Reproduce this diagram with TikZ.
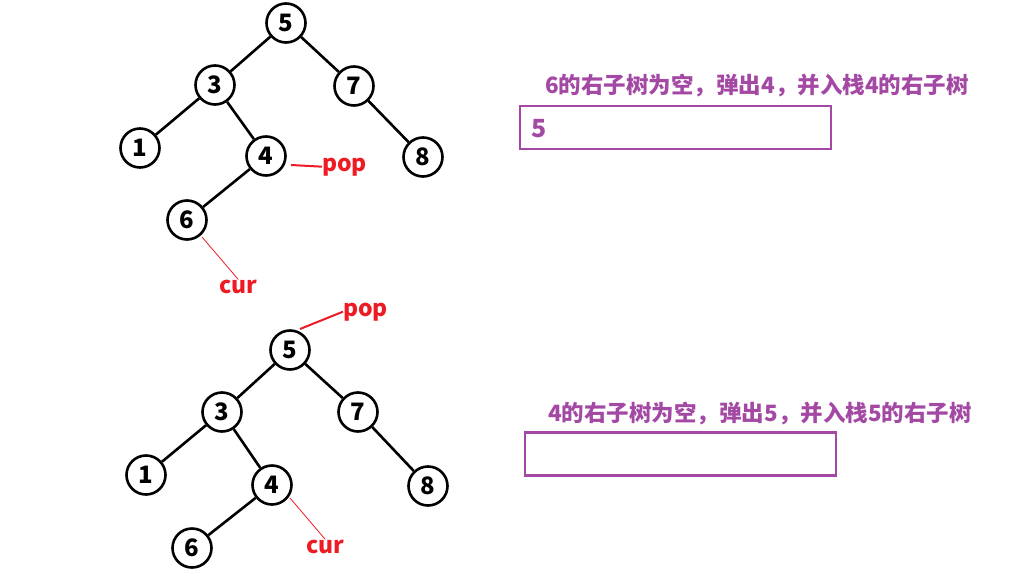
\documentclass[tikz,border=0pt]{standalone}
\usepackage{fontspec}
\setmainfont{Noto Sans CJK SC}
\definecolor{pp}{HTML}{A349A4}
\definecolor{rr}{HTML}{ED1C24}
\begin{document}
\begin{tikzpicture}[x=1pt,y=-1pt,
  tn/.style={circle,draw,line width=2.6pt,minimum size=39pt,inner sep=0pt,font=\fontsize{24}{24}\selectfont\bfseries},
  edge/.style={line width=2.6pt},
  lbl/.style={text=rr,font=\fontsize{23}{23}\selectfont\bfseries,inner sep=0pt,anchor=base west},
  thick red/.style={draw=rr,line width=2pt},
  thin red/.style={draw=rr,line width=0.8pt},
  captext/.style={text=pp,font=\fontsize{22.5}{22.5}\selectfont\bfseries,inner sep=0pt,anchor=base west},
  stackbox/.style={draw=pp,line width=2.6pt,minimum width=311pt,minimum height=43pt,inner sep=0pt},
]
\useasboundingbox (0,0) rectangle (1023,581);
% top tree
\node[tn] (a5) at (286,23) {5};
\node[tn] (a3) at (215,85) {3};
\node[tn] (a7) at (354,86) {7};
\node[tn] (a1) at (140,148) {1};
\node[tn] (a4) at (266,156) {4};
\node[tn] (a8) at (423,157) {8};
\node[tn] (a6) at (187,220) {6};
\draw[edge] (a5) -- (a3);
\draw[edge] (a5) -- (a7);
\draw[edge] (a3) -- (a1);
\draw[edge] (a3) -- (a4);
\draw[edge] (a7) -- (a8);
\draw[edge] (a4) -- (a6);
\node[lbl] (apop) at (322,171) {pop};
\coordinate (apope) at (291,165);
\draw[thick red] (apope) -- (apop.west);
\node[lbl] (acur) at (219,293) {cur};
\coordinate (acure) at (202,237);
\draw[thin red] (acure) -- (acur.north);
% bottom tree
\node[tn] (b5) at (290,350) {5};
\node[tn] (b3) at (222,412) {3};
\node[tn] (b7) at (358,412) {7};
\node[tn] (b1) at (146,475) {1};
\node[tn] (b4) at (272,485) {4};
\node[tn] (b8) at (428,486) {8};
\node[tn] (b6) at (192,548) {6};
\draw[edge] (b5) -- (b3);
\draw[edge] (b5) -- (b7);
\draw[edge] (b3) -- (b1);
\draw[edge] (b3) -- (b4);
\draw[edge] (b7) -- (b8);
\draw[edge] (b4) -- (b6);
\node[lbl] (bpop) at (343,316) {pop};
\coordinate (bpope) at (300,329);
\draw[thick red] (bpope) -- (bpop.west);
\node[lbl] (bcur) at (306,553) {cur};
\coordinate (bcure) at (290,498);
\draw[thin red] (bcure) -- (bcur.north);
% captions and stacks
\node[captext] (t1) at (545,93) {6的右子树为空，弹出4，并入栈4的右子树};
\node[stackbox] (s1) at (675.5,127.5) {};
\node[text=pp,font=\fontsize{25}{25}\selectfont\bfseries,inner sep=0pt,anchor=base west] (s1a) at (531,137) {5};
\node[captext] (t2) at (548,421) {4的右子树为空，弹出5，并入栈5的右子树};
\node[stackbox] (s2) at (680.5,454) {};
\end{tikzpicture}
\end{document}
